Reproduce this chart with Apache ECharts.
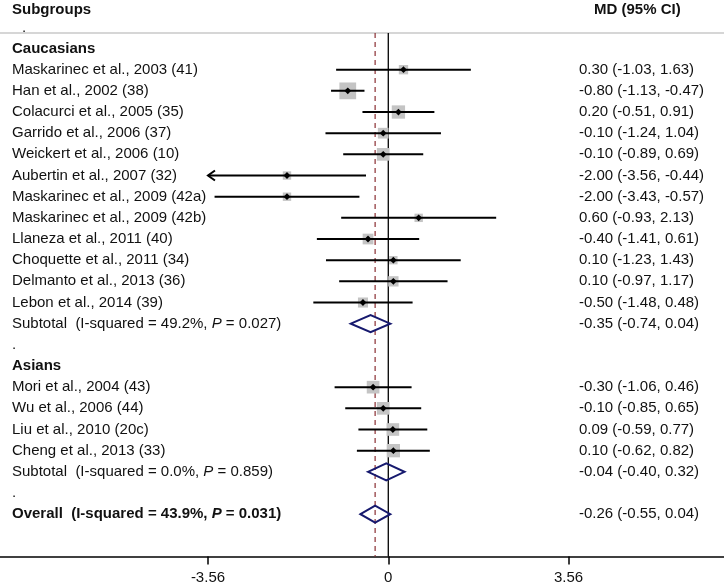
<!DOCTYPE html>
<html><head><meta charset="utf-8">
<script src="https://cdn.jsdelivr.net/npm/echarts@6/dist/echarts.min.js"></script>
<style>html,body{margin:0;padding:0;background:#fff}#c{width:724px;height:586px}</style>
</head><body><div id="c"></div>
<script>
// ---------------- data ----------------
const groupNames = ['Caucasians', 'Asians'];
const studies = [
  'Maskarinec et al., 2003 (41)', 'Han et al., 2002 (38)', 'Colacurci et al., 2005 (35)',
  'Garrido et al., 2006 (37)', 'Weickert et al., 2006 (10)', 'Aubertin et al., 2007 (32)',
  'Maskarinec et al., 2009 (42a)', 'Maskarinec et al., 2009 (42b)', 'Llaneza et al., 2011 (40)',
  'Choquette et al., 2011 (34)', 'Delmanto et al., 2013 (36)', 'Lebon et al., 2014 (39)',
  'Mori et al., 2004 (43)', 'Wu et al., 2006 (44)', 'Liu et al., 2010 (20c)', 'Cheng et al., 2013 (33)'
];
const studyGroup = [0,0,0,0,0,0,0,0,0,0,0,0,1,1,1,1];
const md    = [0.30,-0.80,0.20,-0.10,-0.10,-2.00,-2.00,0.60,-0.40,0.10,0.10,-0.50,-0.30,-0.10,0.09,0.10];
const lower = [-1.03,-1.13,-0.51,-1.24,-0.89,-3.56,-3.43,-0.93,-1.41,-1.23,-0.97,-1.48,-1.06,-0.85,-0.59,-0.62];
const upper = [1.63,-0.47,0.91,1.04,0.69,-0.44,-0.57,2.13,0.61,1.43,1.17,0.48,0.46,0.65,0.77,0.82];
const weights = [3.1,10.0,6.3,4.1,5.7,2.5,2.5,2.5,4.1,2.5,3.8,3.6,5.7,5.7,5.7,6.3];
const subMD    = [-0.35, -0.04];
const subLower = [-0.74, -0.40];
const subUpper = [0.04, 0.32];
const subI2    = [49.2, 0.0];
const subP     = [0.027, 0.859];
const overallMD = -0.26, overallLower = -0.55, overallUpper = 0.04, overallI2 = 43.9, overallP = 0.031;
const tickValues = [-3.56, 0, 3.56];

// ---------------- styles / layout ----------------
const FONT = "'Liberation Sans', Arial, sans-serif";
const FS = 15;
const TXT = '#111';
const LEFT_X = 12, RIGHT_X = 579;
const HEADER_Y = 10, HEADER_LINE_Y = 33;
const BOX_SCALE = 5.3;
const DIAMOND_H = 17;
const NAVY = '#16196e';
const MAROON = '#8b2f33';

const fmt = (m, l, u) => `${m.toFixed(2)} (${l.toFixed(2)}, ${u.toFixed(2)})`;

// ---------------- rows ----------------
const rows = [];
rows.push({ label: '.', dotX: 22 });
const studyRow = [], subRow = [];
groupNames.forEach((g, gi) => {
  rows.push({ label: g, bold: true });
  studies.forEach((s, i) => {
    if (studyGroup[i] !== gi) return;
    studyRow[i] = rows.length;
    rows.push({ label: s, right: fmt(md[i], lower[i], upper[i]) });
  });
  subRow[gi] = rows.length;
  rows.push({ label: `Subtotal  (I-squared = ${subI2[gi].toFixed(1)}%, {i|P} = ${subP[gi].toFixed(3)})`,
              right: fmt(subMD[gi], subLower[gi], subUpper[gi]) });
  rows.push({ label: '.' });
});
const overallRow = rows.length;
rows.push({ label: `Overall  (I-squared = ${overallI2.toFixed(1)}%, {bi|P} = ${overallP.toFixed(3)})`, bold: true,
            right: fmt(overallMD, overallLower, overallUpper) });

const clipLo = Math.min(...tickValues), clipHi = Math.max(...tickValues);

const chart = echarts.init(document.getElementById('c'), null, { renderer: 'canvas' });

const textStyleBase = (bold) => ({
  fill: TXT, fontSize: FS, fontFamily: FONT, fontWeight: bold ? 'bold' : 'normal',
  align: 'left', verticalAlign: 'middle',
  rich: {
    i:  { fontStyle: 'italic', fontSize: FS, fontFamily: FONT, fill: TXT },
    bi: { fontStyle: 'italic', fontWeight: 'bold', fontSize: FS, fontFamily: FONT, fill: TXT }
  }
});

chart.setOption({
  animation: false,
  grid: { left: 0, right: 0, top: 6.2, bottom: 29.5 },
  xAxis: {
    type: 'value', min: -7.666, max: 6.628,
    splitLine: { show: false },
    axisLine: { onZero: false, lineStyle: { color: '#000', width: 1.5 } },
    axisTick: { show: true, customValues: tickValues, length: 8, lineStyle: { color: '#000', width: 1.5 } },
    axisLabel: { customValues: tickValues, formatter: v => String(v), fontSize: FS, color: TXT,
                 fontFamily: FONT, margin: 14 }
  },
  yAxis: { type: 'value', inverse: true, min: -1, max: 25, show: false },
  graphic: [
    { type: 'text', x: LEFT_X, y: HEADER_Y, style: { text: 'Subgroups', fill: TXT, fontSize: FS, fontFamily: FONT, fontWeight: 'bold', align: 'left', verticalAlign: 'middle' } },
    { type: 'text', x: 594, y: HEADER_Y, style: { text: 'MD (95% CI)', fill: TXT, fontSize: FS, fontFamily: FONT, fontWeight: 'bold', align: 'left', verticalAlign: 'middle' } },
    { type: 'line', shape: { x1: 0, y1: HEADER_LINE_Y, x2: 724, y2: HEADER_LINE_Y }, style: { stroke: '#c9c9c9', lineWidth: 1.5 } }
  ],
  series: [
    { // reference lines
      type: 'custom', z: 1,
      data: [[0, overallMD]],
      renderItem: (params, api) => {
        const yb = api.coord([0, 25])[1];
        const x0 = api.coord([api.value(0), 0])[0];
        const xo = api.coord([api.value(1), 0])[0];
        return { type: 'group', children: [
          { type: 'line', shape: { x1: xo, y1: HEADER_LINE_Y, x2: xo, y2: yb }, style: { stroke: MAROON, lineWidth: 1.2, lineDash: [5, 4] } },
          { type: 'line', shape: { x1: x0, y1: HEADER_LINE_Y, x2: x0, y2: yb }, style: { stroke: '#000', lineWidth: 1.3 } }
        ]};
      }
    },
    { // text columns
      type: 'custom', z: 3,
      data: rows.map((r, i) => [0, i]),
      renderItem: (params, api) => {
        const r = rows[params.dataIndex];
        const y = api.coord([0, api.value(1)])[1];
        const ch = [{ type: 'text', x: r.dotX || LEFT_X, y: y, style: Object.assign(textStyleBase(r.bold), { text: r.label }) }];
        if (r.right) ch.push({ type: 'text', x: RIGHT_X, y: y, style: Object.assign(textStyleBase(false), { text: r.right }) });
        return { type: 'group', children: ch };
      }
    },
    { // studies
      type: 'custom', z: 2,
      data: studies.map((s, i) => [md[i], lower[i], upper[i], studyRow[i], weights[i]]),
      renderItem: (params, api) => {
        const m = api.value(0), l = api.value(1), u = api.value(2), row = api.value(3), w = api.value(4);
        const y = api.coord([0, row])[1];
        const xl = api.coord([Math.max(l, clipLo), row])[0];
        const xh = api.coord([Math.min(u, clipHi), row])[0];
        const xm = api.coord([m, row])[0];
        const s = BOX_SCALE * Math.sqrt(w);
        const d = 3.4;
        const ch = [
          { type: 'rect', shape: { x: xm - s / 2, y: y - s / 2, width: s, height: s }, style: { fill: '#c4c4c4' } },
          { type: 'line', shape: { x1: xl, y1: y, x2: xh, y2: y }, style: { stroke: '#000', lineWidth: 2 } },
          { type: 'polygon', shape: { points: [[xm - d, y], [xm, y - d], [xm + d, y], [xm, y + d]] }, style: { fill: '#000' } }
        ];
        if (l <= clipLo) ch.push({ type: 'polyline', shape: { points: [[xl + 7, y - 5], [xl, y], [xl + 7, y + 5]] }, style: { stroke: '#000', lineWidth: 2, fill: null } });
        if (u >= clipHi) ch.push({ type: 'polyline', shape: { points: [[xh - 7, y - 5], [xh, y], [xh - 7, y + 5]] }, style: { stroke: '#000', lineWidth: 2, fill: null } });
        return { type: 'group', children: ch };
      }
    },
    { // pooled diamonds
      type: 'custom', z: 2,
      data: subMD.map((m, g) => [m, subLower[g], subUpper[g], subRow[g]]).concat([[overallMD, overallLower, overallUpper, overallRow]]),
      renderItem: (params, api) => {
        const m = api.value(0), l = api.value(1), u = api.value(2), row = api.value(3);
        const y = api.coord([0, row])[1];
        const xl = api.coord([l, row])[0], xh = api.coord([u, row])[0], xm = api.coord([m, row])[0];
        const h = DIAMOND_H / 2;
        return { type: 'polygon', shape: { points: [[xl, y], [xm, y - h], [xh, y], [xm, y + h]] },
                 style: { fill: 'rgba(255,255,255,0)', stroke: NAVY, lineWidth: 2 } };
      }
    }
  ]
});
</script></body></html>
